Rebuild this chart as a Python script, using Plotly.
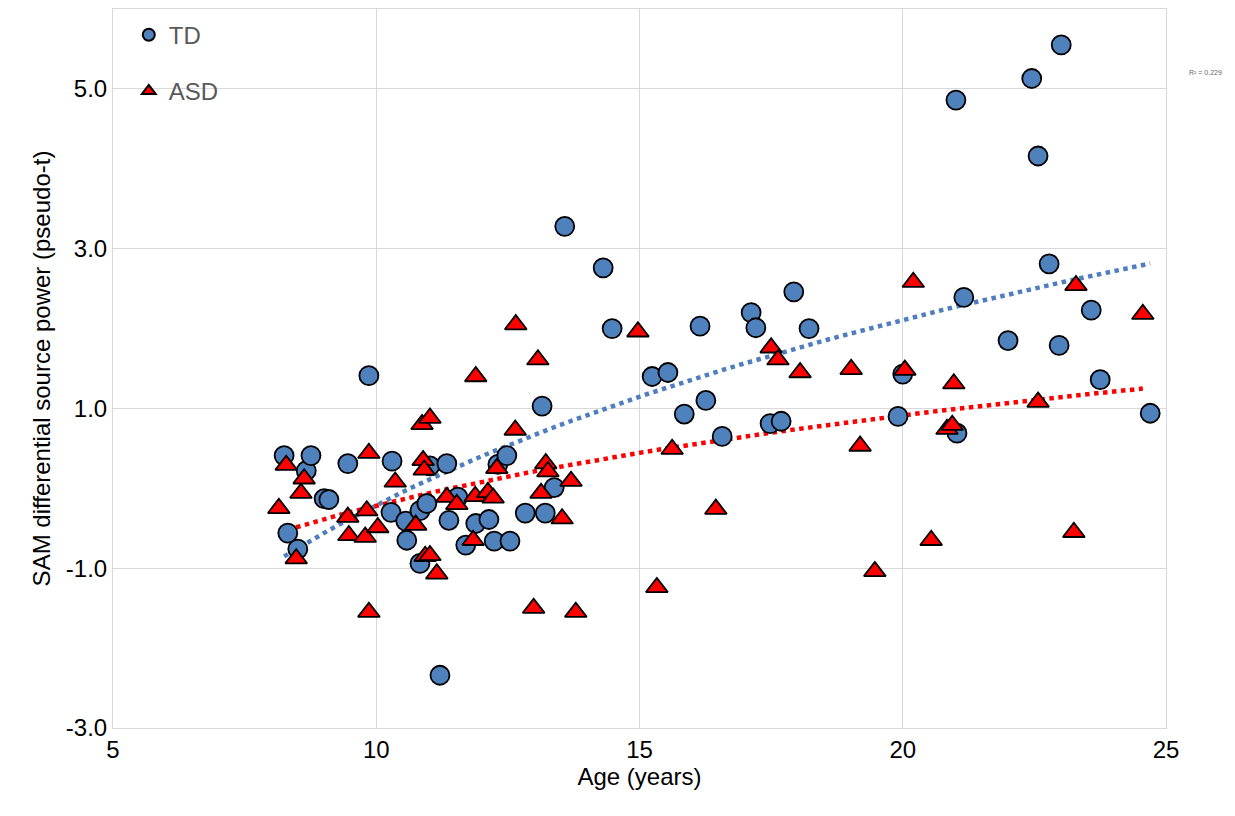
import numpy as np
import plotly.graph_objects as go

td_age = [8.25, 8.32, 8.51, 8.67, 8.76, 9.01, 9.10, 9.46, 9.86, 10.30, 10.28, 10.56, 10.58,
          10.83, 10.83, 10.96, 11.02, 11.21, 11.34, 11.38, 11.55, 11.70, 11.89, 12.14, 12.24,
          12.31, 12.48, 12.54, 12.83, 13.15, 13.21, 13.38, 13.58, 14.31, 14.48, 15.24, 15.54,
          15.85, 16.15, 16.26, 16.57, 17.12, 17.21, 17.48, 17.69, 17.93, 18.22, 19.91, 20.00,
          21.01, 21.03, 21.16, 22.00, 22.45, 22.57, 22.78, 22.97, 23.01, 23.58, 23.75, 24.70]
td_val = [0.41, -0.56, -0.76, 0.22, 0.41, -0.13, -0.14, 0.31, 1.41, 0.34, -0.30, -0.41, -0.65,
          -0.94, -0.28, -0.19, 0.28, -2.34, 0.31, -0.40, -0.11, -0.71, -0.44, -0.39, -0.66,
          0.30, 0.41, -0.66, -0.31, 1.03, -0.31, 0.01, 3.28, 2.76, 2.00, 1.40, 1.45,
          0.93, 2.03, 1.10, 0.65, 2.20, 2.01, 0.81, 0.84, 2.46, 2.00, 0.90, 1.43,
          4.86, 0.69, 2.39, 1.85, 5.13, 4.16, 2.81, 1.79, 5.55, 2.23, 1.36, 0.94]

asd_age = [8.15, 8.29, 8.48, 8.57, 8.63, 9.46, 9.48, 9.79, 9.82, 9.86, 9.86, 10.03, 10.36,
           10.75, 10.87, 10.89, 10.91, 10.93, 11.02, 11.02, 11.15, 11.34, 11.53, 11.84, 11.88,
           11.89, 12.12, 12.22, 12.29, 12.64, 12.65, 12.99, 13.07, 13.13, 13.22, 13.26, 13.53,
           13.70, 13.79, 14.97, 15.33, 15.62, 16.45, 17.50, 17.63, 18.05, 19.02, 19.19, 19.47,
           20.04, 20.20, 20.54, 20.84, 20.94, 20.97, 22.57, 23.29, 23.25, 24.56]
asd_val = [-0.25, 0.29, -0.88, -0.06, 0.12, -0.36, -0.59, -0.61, -0.28, 0.44, -1.55, -0.49, 0.08,
           -0.46, 0.80, 0.35, 0.23, -0.85, 0.88, -0.84, -1.07, -0.11, -0.20, -0.65, -0.10,
           1.40, -0.05, -0.12, 0.25, 0.73, 2.05, -1.50, 1.61, -0.06, 0.31, 0.21, -0.38,
           0.09, -1.55, 1.96, -1.24, 0.49, -0.26, 1.76, 1.61, 1.45, 1.49, 0.53, -1.04,
           1.48, 2.58, -0.65, 0.74, 0.79, 1.31, 1.08, 2.54, -0.55, 2.18]

y_ticks = [-3, -1, 1, 3, 5]
y_labels = ["-3.0", "-1.0", "1.0", "3.0", "5.0"]


def log_fit(x, y):
    x = np.array(x)
    b, a = np.polyfit(np.log(x), np.array(y), 1)
    xs = np.linspace(x.min(), x.max(), 60)
    return xs, a + b * np.log(xs)


fig = go.Figure()
for xs, ys, c in [(*log_fit(td_age, td_val), "#4f7ec0"), (*log_fit(asd_age, asd_val), "#ff0000")]:
    fig.add_trace(go.Scatter(x=xs, y=ys, mode="lines", showlegend=False, hoverinfo="skip",
                             line=dict(color=c, width=4.5, dash="dot")))

fig.add_trace(go.Scatter(x=td_age, y=td_val, mode="markers", name="TD", legendgroup="td",
                         marker=dict(symbol="circle", size=19, color="#4f81bd",
                                     line=dict(color="black", width=1.8))))
fig.add_trace(go.Scatter(x=asd_age, y=asd_val, mode="markers", name="ASD", legendgroup="asd",
                         marker=dict(symbol="triangle-up", size=19, color="#ff0000",
                                     line=dict(color="black", width=1.8))))

fig.add_annotation(x=1.055, y=0.92, xref="paper", yref="paper", text="R² = 0.229",
                   showarrow=False, font=dict(size=7, color="#666666"))

fig.update_layout(
    width=1235, height=816, paper_bgcolor="white", plot_bgcolor="white",
    margin=dict(l=105, r=77, t=1, b=96),
    font=dict(family="Liberation Sans, Arial", size=24, color="black"),
    legend=dict(x=0.015, y=0.995, xanchor="left", yanchor="top", bgcolor="rgba(0,0,0,0)",
                font=dict(size=24, color="#595959"), tracegroupgap=22, itemsizing="constant"),
    xaxis=dict(range=[5, 25], tickvals=[5, 10, 15, 20, 25], showgrid=True, gridcolor="#d9d9d9",
               zeroline=False, showline=True, linecolor="#d9d9d9", mirror=True,
               title=dict(text="Age (years)", font=dict(size=24), standoff=6)),
    yaxis=dict(range=[-3, 6], tickvals=y_ticks, ticktext=y_labels, showgrid=True,
               gridcolor="#d9d9d9", zeroline=False, showline=True, linecolor="#d9d9d9", mirror=True,
               title=dict(text="SAM differential source power (pseudo-t)", font=dict(size=24), standoff=8)),
)

fig.write_html("out.html")
